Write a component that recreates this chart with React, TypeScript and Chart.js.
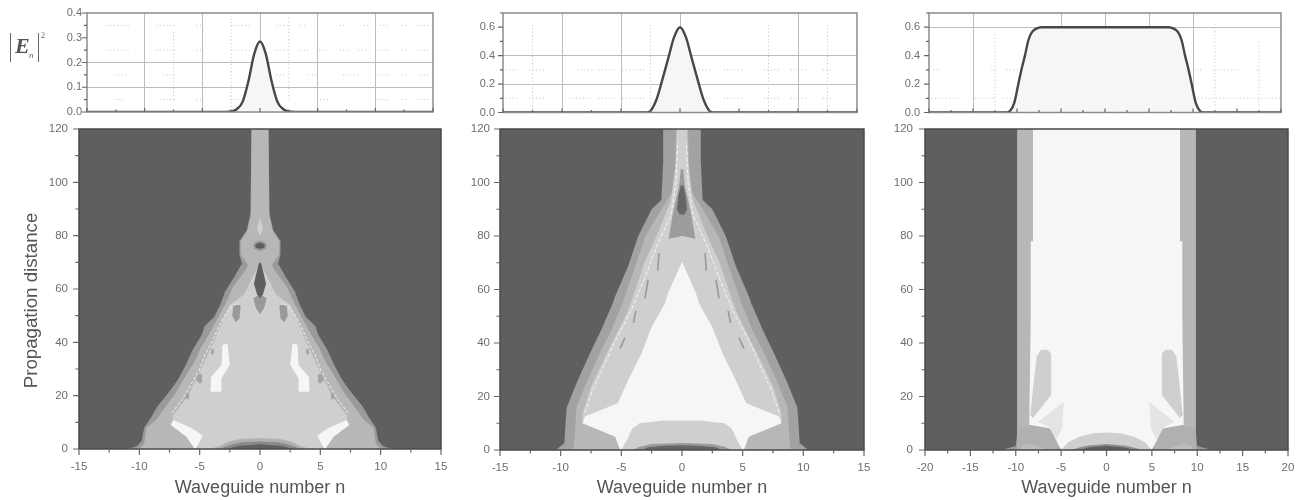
import React, { useEffect, useRef } from "react";
import { Chart, registerables } from "chart.js";

Chart.register(...registerables);

type P = [number, number];

// ---------- colours of the contour levels ----------
const BG = "#5f5f5f";
const L1 = "#9a9a9a";
const L2 = "#b7b7b7";
const L3 = "#cfcfcf";
const L4 = "#e4e4e4";
const L5 = "#f6f6f6";
const D1 = "#8a8a8a";

// ---------- top profile curves ----------
const nA = [-15, -5, -3, -2.5, -2, -1.5, -1, -0.5, 0, 0.5, 1, 1.5, 2, 2.5, 3, 5, 15];
const powerA = [0, 0, 0, 0.002, 0.012, 0.042, 0.125, 0.235, 0.285, 0.235, 0.125, 0.042, 0.012, 0.002, 0, 0, 0];
const nB = [-15, -5, -3, -2.6, -2, -1.5, -1, -0.5, 0, 0.5, 1, 1.5, 2, 2.6, 3, 5, 15];
const powerB = [0, 0, 0, 0.005, 0.09, 0.23, 0.38, 0.53, 0.6, 0.53, 0.38, 0.23, 0.09, 0.005, 0, 0, 0];
const nC = [-20, -11.2, -10.8, -10.3, -9.85, -9.5, -9.1, -8.7, -8.3, -7.8, -7.2, 7.2, 7.8, 8.3, 8.7, 9.1, 9.5, 9.85, 10.3, 10.8, 11.2, 20];
const powerC = [0, 0, 0.01, 0.07, 0.2, 0.3, 0.4, 0.51, 0.565, 0.59, 0.6, 0.6, 0.59, 0.565, 0.51, 0.4, 0.3, 0.2, 0.07, 0.01, 0, 0];

// ---------- faint dotted marks of the top panels ----------
const dotRowsA: [number, number[]][] = [
  [0.35, [-13.3, -11.3, -9, -7.4, -5.5, -4.9, -2.5, -0.7, 1.4, 2.6, 3.5, 3.9, 6.9, 7.5, 9, 9.4, 10.4, 11.3, 12.3, 12.7, 13.6, 14.7]],
  [0.25, [-13.3, -11.4, -9, -7.4, -5.5, -4.9, -2.5, -0.7, 1.4, 2.6, 3.5, 4.2, 5.1, 5.9, 6.9, 7.7, 8.5, 9.4, 10.1, 11.3, 12.3, 12.7, 13.6, 14.7]],
  [0.15, [-12.6, -11.4, -8.4, -7.4, 1.4, 2.3, 4.2, 4.9, 7.2, 8.5, 10.1, 11.3, 12.3, 12.7, 13.9, 14.7]],
  [0.05, [-12.6, -11.7, -8.7, -7.4, -5.5, -4.9, -2.5, -1.4, 5.2, 5.9, 10.1, 11.3, 12.3, 12.7, 13.6, 14.7]],
];
const dotColsA: [number, number, number][] = [[-7.5, 0.05, 0.33], [-2.5, 0.02, 0.38], [2.5, 0.05, 0.38]];
const dotRowsB: [number, number[]][] = [
  [0.3, [-14.8, -13.6, -12.8, -11.4, -8.7, -7.4, -6.9, -5.6, -4.9, -2.9, 1.6, 2.7, 3.7, 5.3, 7.1, 8.4, 9.4, 10.9, 12.1, 13]],
  [0.1, [-14.8, -13.6, -12.8, -11.4, -9.4, -7.4, -6.9, -5.6, -4.9, -2.9, 1.6, 2.7, 3.7, 5.3, 7.1, 8.4, 9.4, 10.9, 12.1, 13]],
];
const dotColsB: [number, number, number][] = [[-12.5, 0.02, 0.62], [-2.5, 0.02, 0.62], [7.5, 0.02, 0.62], [12.5, 0.02, 0.62]];
const dotRowsC: [number, number[]][] = [
  [0.1, [-19.7, -16.5, -14.8, -12.5, -11.6, -10.4, 10.2, 19.9]],
  [0.3, [-19.5, -18.9, -12.9, -12.3, -11.2, -9.7, 10.4, 11, 12.3, 15.2, 17.2, 17.6]],
];
const dotColsC: [number, number, number][] = [[-12.5, 0.05, 0.55], [12.5, 0.05, 0.62], [17.5, 0.05, 0.5]];

// ---------- panel 1 contours (right half, mirrored about n = 0) ----------
const a1Outer: P[] = [[11, 0], [10.2, 1], [9.8, 3], [9.6, 8], [9, 12], [8.5, 16], [7.6, 21], [6.8, 26], [6.1, 32], [5.6, 37], [4.8, 43], [4.6, 46], [3.8, 49.5], [3.3, 54], [2.9, 59], [2.2, 64], [1.5, 69.5], [1.7, 73], [1.7, 78], [1.1, 82], [0.8, 88], [0.7, 120]];
const a1Mid: P[] = [[10, 0], [9.6, 2], [9.4, 8], [8.6, 11], [7.8, 16], [7, 21], [6.2, 27], [5.4, 33], [4.9, 38], [4.1, 44], [3.5, 49], [2.8, 55], [2.2, 61], [1.2, 67], [1, 69], [1.6, 73], [1.6, 78], [1.05, 82], [0.75, 88], [0.7, 120]];
const a1Core: P[] = [[5, 0], [5.6, 3], [6.5, 6], [7.2, 9.6], [7.2, 12.7], [6, 19.6], [5, 29], [3.9, 39.6], [3.1, 48], [2.5, 54], [1.3, 58], [0.9, 62], [0.3, 67], [0, 69]];
const a1WhiteLow: P[] = [[5.3, 0], [4.75, 5], [5.6, 7.7], [7.2, 10.9], [7.4, 9], [6.1, 4.6], [5.4, 0]];
const a1WhiteSide: P[] = [[2.7, 39.6], [3.1, 39], [3.2, 31.5], [4.05, 27], [4.1, 21.5], [3.2, 21.5], [3.2, 26.5], [2.5, 31.5]];
const a1BlobA: P[] = [[1.6, 54], [2.2, 54], [2.3, 50], [2, 47.5], [1.7, 49]];
const a1BlobB: P[] = [[4.8, 28], [5.1, 28.5], [5.3, 26], [5, 24.5], [4.8, 25]];
const a1BlobC: P[] = [[5.85, 20.8], [6.15, 20.8], [6.2, 19], [5.9, 18.5]];
const a1BlobD: P[] = [[3.8, 37.5], [4, 37.5], [4.1, 35.5], [3.85, 35.5]];
const a1SpikeLow: P[] = [[0, 50.5], [0.35, 53], [0.55, 56.5], [0, 58]];
const a1Spike: P[] = [[0, 56.5], [0.25, 58], [0.5, 62], [0.35, 65], [0.1, 69.5], [0, 70]];
const a1Ring: P[] = [[0, 74.2], [0.5, 75], [0.55, 76.5], [0.4, 77.6], [0, 78.2]];
const a1Eye: P[] = [[0, 75], [0.3, 75.4], [0.42, 76.2], [0.3, 77], [0, 77.4]];
const a1Diamond: P[] = [[0, 80], [0.25, 82.5], [0, 87]];
const a1Edge: P[] = [[7.3, 13.5], [6.4, 19], [5.6, 25], [5, 30], [4.6, 35], [3.9, 41], [3.3, 47], [2.6, 52.5], [1.8, 55]];
const a1Mound2: P[] = [[4.1, 0], [3.3, 1.2], [2.6, 2.8], [1.5, 3.8], [0, 4]];
const a1Mound3: P[] = [[3.4, 0], [2.5, 1.5], [1.5, 2.5], [0, 2.8]];
const a1Mound4: P[] = [[2.8, 0], [1.8, 1.1], [0, 1.8]];

// ---------- panel 2 contours ----------
const b2Outer: P[] = [[10.4, 0], [9.7, 2.5], [9.6, 10], [9.5, 16], [8.6, 26], [7.6, 36], [6.65, 45], [5.7, 55], [5.55, 57], [4.45, 68.6], [3.6, 80], [2.5, 90], [1.7, 93.5], [1.55, 108], [1.55, 120]];
const b2Mid: P[] = [[9, 0], [8.9, 2], [8.8, 8], [8.7, 16], [7.8, 26], [6.8, 36], [5.8, 45], [4.9, 55], [3.9, 68], [3, 80], [1.7, 90], [0.6, 98], [0.5, 120]];
const b2Core: P[] = [[5.1, 0], [5.5, 5], [6.5, 8], [8.2, 10], [8.2, 13.7], [7.5, 23.7], [6.1, 37], [4.45, 52], [3.1, 70], [2, 81], [0.9, 93.5], [0.5, 108], [0.4, 120]];
const b2CenterOuter: P[] = [[0, 80], [1.1, 79], [0.75, 88.5], [0.25, 98.5], [0.1, 105], [0, 105]];
const b2CenterInner: P[] = [[0, 88], [0.2, 88], [0.42, 90], [0.3, 95], [0.1, 99], [0, 99]];
const b2White: P[] = [[5.1, 0], [5.5, 5], [8.2, 10], [8, 12.5], [5.3, 17.5], [4.3, 27.4], [3.35, 36], [2.5, 46], [1.4, 55], [1.15, 58.6], [0, 70.4]];
const b2Mound1: P[] = [[5, 0], [4.5, 4], [4.1, 8], [3.5, 10], [1.5, 11], [0, 11]];
const b2Mound2: P[] = [[4.1, 0], [3.5, 1.2], [2.5, 2.2], [0, 2.6]];
const b2Mound3: P[] = [[3.3, 0], [2.8, 1], [1.5, 1.6], [0, 1.8]];
const b2Edge: P[] = [[8, 14], [7.4, 22], [6.5, 31], [5.6, 40], [4.2, 52], [3.1, 64], [2.1, 76], [0.9, 88], [0.5, 100], [0.35, 115]];
const b2DashA: P[] = [[3.8, 52], [4, 47.5]];
const b2DashB: P[] = [[4.7, 42], [5.1, 38]];
const b2DashC: P[] = [[2.8, 63.6], [3.05, 56.7]];
const b2DashD: P[] = [[1.9, 73.6], [2, 67]];

// ---------- panel 3 contours ----------
const c3Base: P[] = [[11.6, 0], [10, 1.5], [9.85, 6], [9.85, 8], [0, 8]];
const c3Stem: P[] = [[9.85, 1], [9.85, 120]];
const c3Wedge: P[] = [[5.2, 0], [9.9, 0], [9.85, 8], [8, 9.5], [6, 8]];
const c3Corner: P[] = [[6.5, 0], [9.5, 0], [9.4, 1.5], [8.5, 2.5]];
const c3White: P[] = [[5, 0], [6.2, 8], [8.5, 9.4], [8.5, 12], [8.35, 50], [8.35, 78], [8.1, 78], [8.1, 120]];
const c3Patch: P[] = [[6.1, 20.5], [6.1, 36], [6.5, 37.5], [7.2, 37.5], [7.7, 35], [8.1, 23], [8.4, 13], [8.1, 12]];
const c3Fan: P[] = [[4.7, 18], [7.5, 10.5], [6.3, 8.5], [5.5, 4], [4.9, 8]];
const c3Mound1: P[] = [[5, 0], [4.2, 3], [3, 5], [1.5, 6.3], [0, 6.5]];
const c3Mound2: P[] = [[3.9, 0], [3, 0.9], [2, 1.7], [0, 2.2]];
const c3Mound3: P[] = [[3, 0], [2, 0.9], [0, 1.6]];

// ---------- tick and grid values ----------
const XTITLE = "Waveguide number n";
const YTITLE = "Propagation distance";

const xy = (pts: P[]) => pts.map(([x, y]) => ({ x, y }));
const mirrorPoly = (h: P[]): P[] => [...h, ...[...h].reverse().map(([x, y]) => [-x, y] as P)];
const flip = (h: P[]): P[] => h.map(([x, y]) => [-x, y] as P);

const poly = (pts: P[], color: string) => ({
  type: "line",
  data: xy(pts),
  fill: "shape",
  backgroundColor: color,
  borderColor: color,
  borderWidth: 0,
  borderDash: [4, 0],
  pointRadius: 0,
  tension: 0,
});
const sym = (h: P[], c: string) => poly(mirrorPoly(h), c);
const pair = (h: P[], c: string) => [poly(h, c), poly(flip(h), c)];
const stroke = (pts: P[], color: string, width: number, dash: number[]) => ({
  type: "line",
  data: xy(pts),
  fill: false,
  borderColor: color,
  borderWidth: width,
  borderDash: dash,
  pointRadius: 0,
  tension: 0,
});
const strokePair = (h: P[], color: string, width: number, dash: number[]) => [stroke(h, color, width, dash), stroke(flip(h), color, width, dash)];

const near = (v: number, list: number[]) => list.some((a) => Math.abs(a - v) < 1e-6);

const framePlugin = {
  id: "frameAndTicks",
  afterDatasetsDraw(chart: any, _a: any, o: any) {
    const { ctx, chartArea: ca, scales } = chart;
    ctx.save();
    ctx.strokeStyle = o.frame;
    ctx.lineWidth = o.frameWidth;
    ctx.strokeRect(ca.left, ca.top, ca.right - ca.left, ca.bottom - ca.top);
    ctx.strokeStyle = o.tick;
    ctx.lineWidth = 1.2;
    ctx.beginPath();
    scales.x.ticks.forEach((t: any) => {
      const px = scales.x.getPixelForValue(t.value);
      const major = near(Math.abs(t.value) % o.xMajor, [0, o.xMajor]);
      const len = major ? o.xLen : o.xLen * 0.6;
      ctx.moveTo(px, ca.bottom);
      ctx.lineTo(px, ca.bottom + (o.xInside ? -len : len));
    });
    scales.y.ticks.forEach((t: any) => {
      const py = scales.y.getPixelForValue(t.value);
      const major = near(t.value % o.yMajor, [0, o.yMajor]);
      const len = major ? o.yLen : o.yLen * 0.6;
      ctx.moveTo(ca.left, py);
      ctx.lineTo(ca.left - len, py);
    });
    ctx.stroke();
    ctx.restore();
  },
};

function baseOptions(cfg: any) {
  return {
    responsive: false,
    animation: false,
    devicePixelRatio: 1,
    events: [],
    layout: { autoPadding: false, padding: { top: cfg.T, right: cfg.R, left: 0, bottom: 0 } },
    plugins: {
      legend: { display: false },
      tooltip: { enabled: false },
      frameAndTicks: cfg.frame,
    },
  };
}

const fixHeight = (h: number) => (s: any) => {
  s.height = h;
  s.paddingLeft = s.paddingRight = s.paddingTop = s.paddingBottom = 0;
};
const fixWidth = (w: number) => (s: any) => {
  s.width = w;
  s.paddingLeft = s.paddingRight = s.paddingTop = s.paddingBottom = 0;
};

function topChart(canvas: HTMLCanvasElement, p: any) {
  const dots: any[] = [];
  p.rows.forEach(([y, xs]: [number, number[]]) => {
    for (let i = 0; i < xs.length; i += 2) {
      dots.push(stroke([[xs[i], y], [xs[i + 1], y]], "#c2c2c2", 1, [1, 2.5]));
    }
  });
  p.cols.forEach(([x, y1, y2]: [number, number, number]) => {
    dots.push(stroke([[x, y1], [x, y2]], "#c2c2c2", 1, [1, 2.5]));
  });
  const curve = {
    type: "line",
    data: p.n.map((x: number, i: number) => ({ x, y: p.v[i] })),
    fill: "origin",
    backgroundColor: "#f6f6f6",
    borderColor: "#474747",
    borderWidth: 2.4,
    pointRadius: 0,
    cubicInterpolationMode: "monotone",
  };
  return new Chart(canvas, {
    type: "line",
    data: { datasets: [curve, ...dots] as any },
    plugins: [framePlugin],
    options: {
      ...baseOptions({
        T: p.T,
        R: p.R,
        frame: { frame: "#8c8c8c", frameWidth: 1.5, tick: "#666", xMajor: 5, yMajor: p.yMajor, xLen: 4, yLen: 5, xInside: true },
      }),
      scales: {
        x: {
          type: "linear",
          min: p.xMin,
          max: p.xMax,
          afterFit: fixHeight(p.B),
          grid: { drawTicks: false, lineWidth: 1, color: (c: any) => (near(c.tick.value, p.xGrid) ? "#bdbdbd" : "transparent") },
          border: { display: false },
          ticks: { display: false, stepSize: 2.5, autoSkip: false, includeBounds: true },
        },
        y: {
          type: "linear",
          min: 0,
          max: p.yMax,
          afterFit: fixWidth(p.L),
          grid: { drawTicks: false, lineWidth: 1, color: (c: any) => (near(c.tick.value, p.yGrid) ? "#bdbdbd" : "transparent") },
          border: { display: false },
          ticks: {
            stepSize: p.yStep,
            autoSkip: false,
            padding: p.pad,
            color: "#6e6e6e",
            font: { family: "'Liberation Sans'", size: 11 },
            callback: (v: number) => (near(v % p.yMajor, [0, p.yMajor]) ? v.toFixed(1) : ""),
          },
        },
      },
    } as any,
  });
}

function mainChart(canvas: HTMLCanvasElement, p: any) {
  return new Chart(canvas, {
    type: "line",
    data: { datasets: [...p.layers].reverse() as any },
    plugins: [framePlugin, {
      id: "bg",
      beforeDatasetsDraw(chart: any) {
        const { ctx, chartArea: a } = chart;
        ctx.save();
        ctx.fillStyle = BG;
        ctx.fillRect(a.left, a.top, a.right - a.left, a.bottom - a.top);
        ctx.restore();
      },
      afterDraw(chart: any) {
        if (!p.yTitle) return;
        const { ctx } = chart;
        ctx.save();
        ctx.translate(32, 300.5 - MAIN_TOP);
        ctx.rotate(-Math.PI / 2);
        ctx.textAlign = "center";
        ctx.textBaseline = "middle";
        ctx.fillStyle = "#555";
        ctx.font = "18.7px 'Liberation Sans'";
        ctx.fillText(p.yTitle, 0, 0);
        ctx.restore();
      },
    }],
    options: {
      ...baseOptions({
        T: p.T,
        R: p.R,
        frame: { frame: "#4a4a4a", frameWidth: 1.5, tick: "#666", xMajor: 5, yMajor: 20, xLen: 6, yLen: 6, xInside: false },
      }),
      scales: {
        x: {
          type: "linear",
          min: p.xMin,
          max: p.xMax,
          afterFit: fixHeight(p.B),
          grid: { display: false, drawTicks: false },
          border: { display: false },
          title: {
            display: true,
            text: XTITLE,
            color: "#555",
            font: { family: "'Liberation Sans'", size: 18 },
            padding: { top: 0, bottom: 1 },
          },
          ticks: {
            stepSize: 2.5,
            autoSkip: false,
            maxRotation: 0,
            padding: 11,
            color: "#6e6e6e",
            font: { family: "'Liberation Sans'", size: 11.5 },
            callback: (v: number) => (near(Math.abs(v) % 5, [0, 5]) ? String(v) : ""),
          },
        },
        y: {
          type: "linear",
          min: 0,
          max: 120,
          afterFit: fixWidth(p.L),
          grid: { display: false, drawTicks: false },
          border: { display: false },
          ticks: {
            stepSize: 10,
            autoSkip: false,
            padding: p.pad,
            color: "#6e6e6e",
            font: { family: "'Liberation Sans'", size: 11.5 },
            callback: (v: number) => (v % 20 === 0 ? String(v) : ""),
          },
        },
      },
    } as any,
  });
}

const layersA = [
  sym(a1Outer, L1),
  sym(a1Mid, L2),
  sym(a1Core, L3),
  sym(a1Mound2, "#b0b0b0"),
  sym(a1Mound3, D1),
  sym(a1Mound4, BG),
  ...pair(a1WhiteLow, L5),
  ...pair(a1WhiteSide, L5),
  ...pair(a1BlobA, "#999"),
  ...pair(a1BlobB, "#a5a5a5"),
  ...pair(a1BlobC, "#a5a5a5"),
  ...pair(a1BlobD, "#a5a5a5"),
  sym(a1SpikeLow, "#999"),
  sym(a1Spike, BG),
  sym(a1Ring, "#999"),
  sym(a1Eye, BG),
  sym(a1Diamond, L3),
  ...strokePair(a1Edge, L5, 1, [3, 2]),
];
const layersB = [
  sym(b2Outer, "#a2a2a2"),
  sym(b2Mid, L2),
  sym(b2Core, L3),
  sym(b2CenterOuter, "#9c9c9c"),
  sym(b2CenterInner, "#666"),
  sym(b2White, L5),
  sym(b2Mound1, L3),
  sym(b2Mound2, "#9a9a9a"),
  sym(b2Mound3, "#666"),
  ...strokePair(b2Edge, L5, 1, [4, 2]),
  ...strokePair(b2DashA, "#999", 1.6, []),
  ...strokePair(b2DashB, "#999", 1.6, []),
  ...strokePair(b2DashC, "#999", 1.6, []),
  ...strokePair(b2DashD, "#999", 1.6, []),
];
const layersC = [
  sym(c3Base, L1),
  sym(c3Stem, L2),
  ...pair(c3Wedge, "#b0b0b0"),
  ...pair(c3Corner, "#bcbcbc"),
  sym(c3White, L5),
  ...pair(c3Patch, L3),
  ...pair(c3Fan, L4),
  sym(c3Mound1, L3),
  sym(c3Mound2, "#8f8f8f"),
  sym(c3Mound3, BG),
];

const TOP_H = 118;
const MAIN_TOP = 118;
const MAIN_H = 382;

const PANELS = [
  {
    left: 0, width: 462,
    top: { L: 87, R: 462 - 433, T: 13, B: TOP_H - 112, pad: 5, xMin: -15, xMax: 15, yMax: 0.4, yStep: 0.05, yMajor: 0.1, n: nA, v: powerA, rows: dotRowsA, cols: dotColsA, xGrid: [-10, -5, 0, 5, 10], yGrid: [0.1, 0.2] },
    main: { L: 79, R: 462 - 441, T: 129 - MAIN_TOP, B: MAIN_TOP + MAIN_H - 449, pad: 11, xMin: -15, xMax: 15, layers: layersA, yTitle: YTITLE },
  },
  {
    left: 462, width: 423,
    top: { L: 503 - 462, R: 885 - 857, T: 13, B: TOP_H - 112.5, pad: 8, xMin: -15, xMax: 15, yMax: 0.7, yStep: 0.1, yMajor: 0.2, n: nB, v: powerB, rows: dotRowsB, cols: dotColsB, xGrid: [-10, -5, 0, 10], yGrid: [0.2, 0.4] },
    main: { L: 500 - 462, R: 885 - 864, T: 129 - MAIN_TOP, B: MAIN_TOP + MAIN_H - 450, pad: 10, xMin: -15, xMax: 15, layers: layersB },
  },
  {
    left: 885, width: 417,
    top: { L: 929 - 885, R: 1302 - 1281, T: 13, B: TOP_H - 112.5, pad: 9, xMin: -20, xMax: 20, yMax: 0.7, yStep: 0.1, yMajor: 0.2, n: nC, v: powerC, rows: dotRowsC, cols: dotColsC, xGrid: [-15, -5, 0, 5, 10], yGrid: [0.6] },
    main: { L: 925 - 885, R: 1302 - 1288, T: 129 - MAIN_TOP, B: MAIN_TOP + MAIN_H - 450, pad: 12, xMin: -20, xMax: 20, layers: layersC },
  },
];

export default function App() {
  const tops = useRef<(HTMLCanvasElement | null)[]>([]);
  const mains = useRef<(HTMLCanvasElement | null)[]>([]);

  useEffect(() => {
    document.body.style.margin = "0";
    const charts: Chart[] = [];
    PANELS.forEach((p, i) => {
      charts.push(topChart(tops.current[i]!, p.top));
      charts.push(mainChart(mains.current[i]!, p.main));
    });
    return () => charts.forEach((c) => c.destroy());
  }, []);

  const bar: React.CSSProperties = { position: "absolute", top: 33, width: 1, height: 29, background: "#666" };
  return (
    <div style={{ position: "relative", width: 1302, height: 500, overflow: "hidden", background: "#fff", filter: "blur(0.6px)" }}>
      {PANELS.map((p, i) => (
        <React.Fragment key={i}>
          <canvas
            ref={(el) => { tops.current[i] = el; }}
            width={p.width}
            height={TOP_H}
            style={{ position: "absolute", left: p.left, top: 0, width: p.width, height: TOP_H, display: "block" }}
          />
          <canvas
            ref={(el) => { mains.current[i] = el; }}
            width={p.width}
            height={MAIN_H}
            style={{ position: "absolute", left: p.left, top: MAIN_TOP, width: p.width, height: MAIN_H, display: "block" }}
          />
        </React.Fragment>
      ))}
      <div style={{ ...bar, left: 10 }} />
      <div style={{ ...bar, left: 38 }} />
      <span style={{ position: "absolute", left: 15, top: 34, font: "italic bold 22px 'Liberation Serif'", color: "#555", lineHeight: "24px" }}>E</span>
      <span style={{ position: "absolute", left: 29, top: 50, font: "italic 9px 'Liberation Serif'", color: "#666", lineHeight: "10px" }}>n</span>
      <span style={{ position: "absolute", left: 41, top: 31, font: "8px 'Liberation Serif'", color: "#666", lineHeight: "10px" }}>2</span>
    </div>
  );
}
